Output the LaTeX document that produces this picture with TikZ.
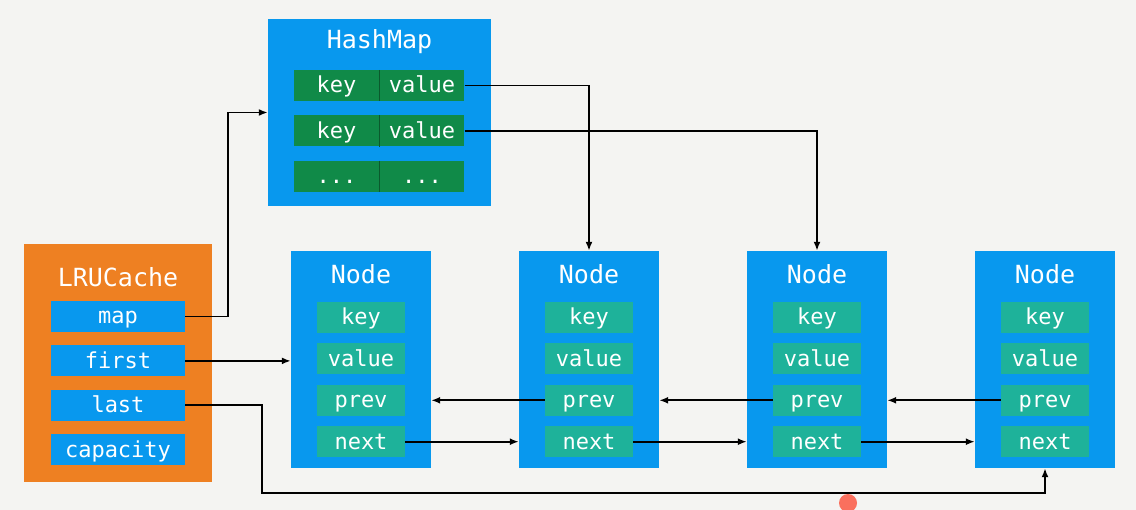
\documentclass[tikz,border=0pt]{standalone}
\usepackage{fontspec}
\newfontfamily\codefont{DejaVu Sans Mono}
\usetikzlibrary{positioning,arrows.meta}

\definecolor{bgcol}{RGB}{244,244,242}
\definecolor{boxblue}{RGB}{8,152,238}
\definecolor{cellgreen}{RGB}{16,138,72}
\definecolor{cellline}{RGB}{10,90,45}
\definecolor{fieldteal}{RGB}{30,178,154}
\definecolor{boxorange}{RGB}{238,128,34}
\definecolor{dotred}{RGB}{250,112,94}

\tikzset{
  panel/.style={fill=#1, inner sep=0pt},
  title/.style={text=white, inner sep=0pt, font=\codefont\fontsize{25}{29}\selectfont},
  field/.style={fill=#1, text=white, inner sep=0pt, minimum height=31pt,
    text height=17pt, text depth=2pt, font=\codefont\fontsize{22}{26}\selectfont},
  link/.style={line width=1.8pt, -{Latex[length=9pt,width=7pt]}},
  divider/.style={draw=cellline, line width=1pt},
}

\begin{document}
\begin{tikzpicture}[x=1pt, y=-1pt]
  \fill[bgcol] (0,0) rectangle (1136,510);
  \useasboundingbox (0,0) rectangle (1136,510);

  % hash map
  \node[panel=boxblue, minimum width=223pt, minimum height=187pt] (hm) at (379.5,112.5) {};
  \node[title] (hmtitle) at (379.5,42) {HashMap};
  \node[field=cellgreen, minimum width=85pt] (hk1) at (336.5,85.5) {key};
  \node[field=cellgreen, minimum width=85pt, below=14pt of hk1] (hk2) {key};
  \node[field=cellgreen, minimum width=85pt, below=14pt of hk2] (hk3) {...};
  \node[field=cellgreen, minimum width=85pt, right=0pt of hk1] (hv1) {value};
  \node[field=cellgreen, minimum width=85pt, right=0pt of hk2] (hv2) {value};
  \node[field=cellgreen, minimum width=85pt, right=0pt of hk3] (hv3) {...};
  \foreach \r in {1,2,3}
    \draw[divider] (hk\r.north east) -- (hk\r.south east);

  % cache
  \node[panel=boxorange, minimum width=188pt, minimum height=238pt] (lru) at (118,363) {};
  \node[title] (lrutitle) at (118,277) {LRUCache};
  \node[field=boxblue, minimum width=134pt] (map) at (118,316.5) {map};
  \node[field=boxblue, minimum width=134pt, below=13pt of map] (first) {first};
  \node[field=boxblue, minimum width=134pt, below=13pt of first] (last) {last};
  \node[field=boxblue, minimum width=134pt, below=13pt of last] (cap) {capacity};

  % list nodes
  \foreach \i/\cx in {1/361,2/589,3/817,4/1045} {
    \node[panel=boxblue, minimum width=140pt, minimum height=217pt] (n\i) at (\cx,359.5) {};
    \node[title] (t\i) at (\cx,274) {Node};
    \node[field=fieldteal, minimum width=88pt] (k\i) at (\cx,317.5) {key};
    \node[field=fieldteal, minimum width=88pt, below=10pt of k\i] (v\i) {value};
    \node[field=fieldteal, minimum width=88pt, below=10pt of v\i] (p\i) {prev};
    \node[field=fieldteal, minimum width=88pt, below=10pt of p\i] (x\i) {next};
  }

  % pointers
  \draw[link] (map.east) -- ++(43,0) |- (hm.west);
  \draw[link] (first.east) -- (first.east -| n1.west);
  \draw[link] (last.east) -- ++(77,0) -- ++(0,88) -| (n4.south);
  \draw[link] (hv1.east) -| (n2.north);
  \draw[link] (hv2.east) -| (n3.north);
  \foreach \i/\j in {1/2,2/3,3/4} {
    \draw[link] (p\j.west) -- (p\j.west -| n\i.east);
    \draw[link] (x\i.east) -- (x\i.east -| n\j.west);
  }

  \fill[dotred] (848,503) circle[radius=9pt];
\end{tikzpicture}
\end{document}
